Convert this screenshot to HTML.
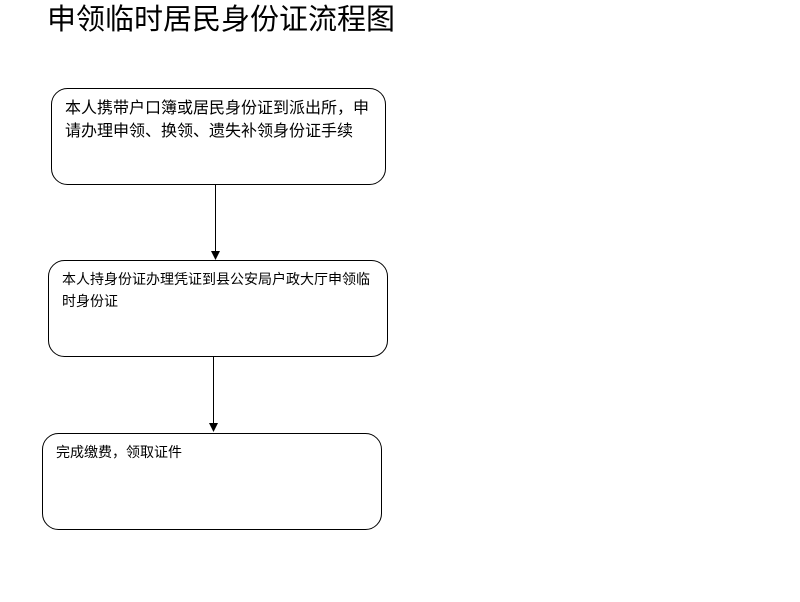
<!DOCTYPE html>
<html><head><meta charset="utf-8"><style>
html,body{margin:0;padding:0;background:#fff;}
svg{display:block;}
text{font-family:"Liberation Sans","Noto Sans CJK SC",sans-serif;fill:#000;}
</style></head><body>
<svg width="800" height="602" viewBox="0 0 800 602" xmlns="http://www.w3.org/2000/svg">
<defs><marker id="a" markerWidth="8" markerHeight="10" refX="4" refY="9" orient="auto" markerUnits="userSpaceOnUse"><path d="M0,0 L8,0 L4,9 z" fill="#000" transform="rotate(-90 4 4.5)"/></marker></defs>
<text x="47" y="29" font-size="29">申领临时居民身份证流程图</text>
<rect x="51.5" y="88.5" width="334" height="96" rx="16" fill="#fff" stroke="#000"/>
<text x="65" y="113" font-size="16">本人携带户口簿或居民身份证到派出所，申</text>
<text x="65" y="136" font-size="16">请办理申领、换领、遗失补领身份证手续</text>
<line x1="215.5" y1="185" x2="215.5" y2="252" stroke="#000"/>
<path d="M211,251 L220,251 L215.5,260 z" fill="#000"/>
<rect x="48.5" y="260.5" width="339" height="96" rx="16" fill="#fff" stroke="#000"/>
<text x="62" y="284" font-size="14">本人持身份证办理凭证到县公安局户政大厅申领临</text>
<text x="62" y="306" font-size="14">时身份证</text>
<line x1="213.5" y1="357" x2="213.5" y2="424" stroke="#000"/>
<path d="M209,423 L218,423 L213.5,432 z" fill="#000"/>
<rect x="42.5" y="433.5" width="339" height="96" rx="16" fill="#fff" stroke="#000"/>
<text x="56" y="457" font-size="14">完成缴费，领取证件</text>
</svg>
</body></html>
